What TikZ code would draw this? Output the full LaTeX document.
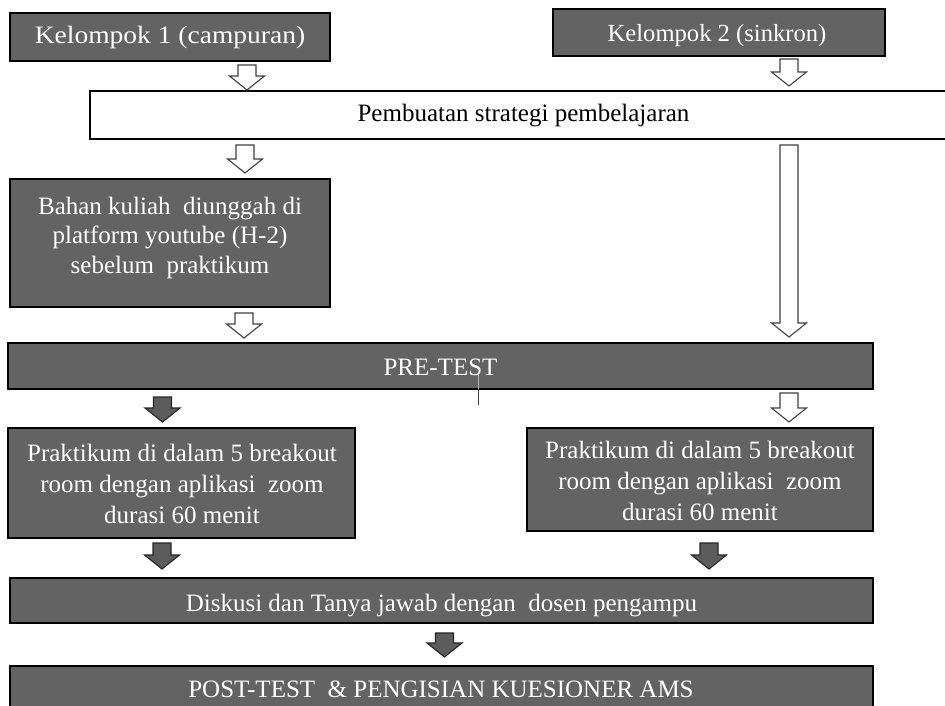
\documentclass[tikz,border=0pt]{standalone}
\usepackage{fontspec}
\setmainfont{Liberation Serif}
\usepackage{graphicx}
\usetikzlibrary{calc}
\definecolor{boxgray}{RGB}{99,99,99}
\definecolor{arrgray}{RGB}{92,92,92}
\newcommand\sq[1]{#1}
\tikzset{
  box/.style={draw=black, line width=1.4pt, fill=boxgray, inner sep=0pt, rectangle},
  wbox/.style={draw=black, line width=1.4pt, fill=white, inner sep=0pt, rectangle},
  txt/.style={text=white, font=\fontsize{25}{30}\selectfont, inner sep=0pt, anchor=base},
  btxt/.style={txt, text=black},
  blockarrow/.style={to path={let \p1=(\tikztostart), \p2=(\tikztotarget) in
    (\x1-9pt,\y1) -- (\x1+9pt,\y1) -- (\x1+9pt,\y2+14pt) -- (\x1+17.5pt,\y2+14pt)
    -- (\x1,\y2) -- (\x1-17.5pt,\y2+14pt) -- (\x1-9pt,\y2+14pt) -- cycle}},
  hollowarrow/.style={blockarrow, draw=black!75, line width=1.1pt, fill=white, line join=miter},
  darkarrow/.style={blockarrow, draw=black!85, line width=1.1pt, fill=arrgray, line join=miter}
}
\begin{document}
\begin{tikzpicture}[x=1pt,y=-1pt]
\useasboundingbox (0,0) rectangle (945,706);
\clip (0,0) rectangle (945,706);
\fill[white] (0,0) rectangle (945,706);

% boxes
\node[box, minimum width=320pt, minimum height=48pt] (k1) at (170,37) {};
\node[box, minimum width=332pt, minimum height=47pt] (k2) at (719,32.5) {};
\node[wbox, minimum width=867pt, minimum height=48pt] (strat) at (523.5,115) {};
\node[box, minimum width=320pt, minimum height=128pt] (bahan) at (170,243) {};
\node[box, minimum width=865pt, minimum height=46pt] (pre) at (440.5,366) {};
\node[box, minimum width=347pt, minimum height=110pt] (pl) at (181.5,483) {};
\node[box, minimum width=346pt, minimum height=103pt] (pr) at (700,479.5) {};
\node[box, minimum width=863pt, minimum height=45pt] (disk) at (441.5,600.5) {};
\node[box, minimum width=863pt, minimum height=50pt] (post) at (441.5,691) {};

% arrow end points
\coordinate (a1s) at (247,65);   \coordinate (a1e) at (247,90);
\coordinate (a2s) at (789,59);   \coordinate (a2e) at (789,86);
\coordinate (a3s) at (245,145);  \coordinate (a3e) at (245,173);
\coordinate (a4s) at (244,313);  \coordinate (a4e) at (244,338);
\coordinate (als) at (789,145);  \coordinate (ale) at (789,337);
\coordinate (a5s) at (162.5,397);\coordinate (a5e) at (162.5,422);
\coordinate (a6s) at (789,393);  \coordinate (a6e) at (789,422);
\coordinate (a7s) at (162,543);  \coordinate (a7e) at (162,569);
\coordinate (a8s) at (709,543);  \coordinate (a8e) at (709,569);
\coordinate (a9s) at (444.5,633);\coordinate (a9e) at (444.5,657);

\draw[hollowarrow] (a1s) to (a1e);
\draw[hollowarrow] (a2s) to (a2e);
\draw[hollowarrow] (a3s) to (a3e);
\draw[hollowarrow] (a4s) to (a4e);
\draw[hollowarrow] (als) to (ale);
\draw[darkarrow] (a5s) to (a5e);
\draw[hollowarrow] (a6s) to (a6e);
\draw[darkarrow] (a7s) to (a7e);
\draw[darkarrow] (a8s) to (a8e);
\draw[darkarrow] (a9s) to (a9e);

% small stray line below PRE-TEST
\coordinate (t1) at (478,374);
\coordinate (t2) at (478,389);
\coordinate (t3) at (478,405);
\draw[gray!60, line width=1pt] (t1) -- (t2);
\draw[black!75, line width=1pt] (t2) -- (t3);

% texts
\node[txt] (k1t) at (170,44) {\scalebox{1.1}[1]{\sq{Kelompok} 1 (\sq{campuran})}};
\node[txt, font=\fontsize{24.6}{30}\selectfont] (k2t) at (717,42) {\sq{Kelompok} 2 (\sq{sinkron})};
\node[btxt] (stratt) at (523.5,122) {\sq{Pembuatan} \sq{strategi} \sq{pembelajaran}};

\node[txt] (bt1) at (170,214) {\sq{Bahan} \sq{kuliah}\ \ \sq{diunggah} di};
\node[txt] (bt2) at (170,243.5) {platform \sq{youtube} (H-2)};
\node[txt] (bt3) at (170,273) {\sq{sebelum}\ \ \sq{praktikum}};

\node[txt] (pret) at (440.5,375) {PRE-TEST};

\node[txt] (pl1) at (182,461) {\sq{Praktikum} di \sq{dalam} 5 breakout};
\node[txt] (pl2) at (182,492.5) {room \sq{dengan} \sq{aplikasi}\ \ zoom};
\node[txt] (pl3) at (182,523) {\sq{durasi} 60 \sq{menit}};

\node[txt] (pr1) at (700,458) {\sq{Praktikum} di \sq{dalam} 5 breakout};
\node[txt] (pr2) at (700,489) {room \sq{dengan} \sq{aplikasi}\ \ zoom};
\node[txt] (pr3) at (700,520) {\sq{durasi} 60 \sq{menit}};

\node[txt] (diskt) at (441.5,611) {\sq{Diskusi} dan Tanya \sq{jawab} \sq{dengan}\ \ \sq{dosen} \sq{pengampu}};
\node[txt] (postt) at (441,697) {POST-TEST\ \ \& PENGISIAN KUESIONER AMS};
\end{tikzpicture}
\end{document}
